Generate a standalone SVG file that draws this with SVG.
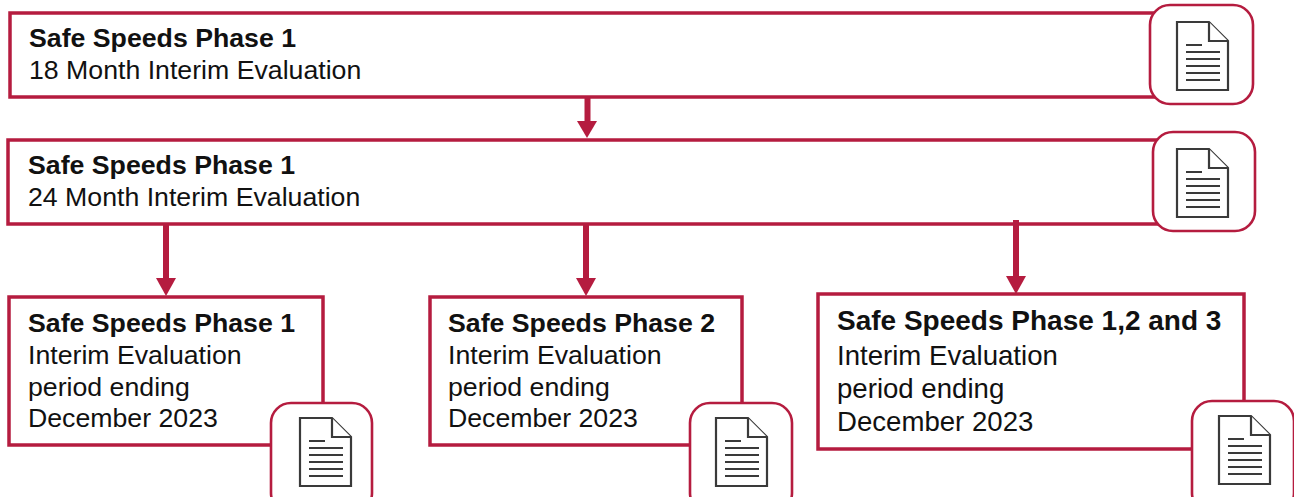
<svg xmlns="http://www.w3.org/2000/svg" width="1294" height="497" viewBox="0 0 1294 497">
<style>
.box{fill:#fff;stroke:#b51c3f;stroke-width:3.5}
.ic{fill:#fff;stroke:#b51c3f;stroke-width:2.6}
.conn{stroke:#b51c3f;stroke-width:6;fill:none}
.ah{fill:#b51c3f}
.doc{fill:#fff;stroke:#3a3a3a;stroke-width:2.2;stroke-linejoin:miter}
.dl{stroke:#3a3a3a;stroke-width:2;fill:none}
text{font-family:"Liberation Sans",Arial,sans-serif;font-size:26.7px;fill:#111}
.b{font-weight:700}
.lg{font-size:27.6px}
.xl{font-size:28px}
</style>
<defs>
<g id="doc">
<path class="doc" d="M0 0H32L51 19V68H0Z"/>
<path class="doc" d="M32 0V19H51"/>
<path class="dl" d="M9 23H25M9 30H43M9 37H43M9 44H43M9 51H43M9 58H43"/>
</g>
</defs>
<g id="node-1">
<rect class="box" x="10" y="13" width="1160" height="84"/>
<text class="b" x="29" y="47">Safe Speeds Phase 1</text>
<text x="29" y="79">18 Month Interim Evaluation</text>
<rect class="ic" x="1150" y="5" width="103" height="99" rx="20"/>
<use href="#doc" x="1177" y="22"/>
</g>
<g id="node-2">
<rect class="box" x="8" y="140" width="1165" height="84"/>
<text class="b" x="28" y="174">Safe Speeds Phase 1</text>
<text x="28" y="206">24 Month Interim Evaluation</text>
<rect class="ic" x="1153" y="132" width="102" height="99" rx="20"/>
<use href="#doc" x="1177" y="149"/>
</g>
<g id="node-3">
<rect class="box" x="9" y="297" width="314" height="148"/>
<text class="b" x="28" y="332">Safe Speeds Phase 1</text>
<text x="28" y="364">Interim Evaluation</text>
<text x="28" y="396">period ending</text>
<text x="28" y="427">December 2023</text>
<rect class="ic" x="271" y="403" width="101" height="110" rx="20"/>
<use href="#doc" x="300" y="418"/>
</g>
<g id="node-4">
<rect class="box" x="430" y="297" width="312" height="148"/>
<text class="b" x="448" y="332">Safe Speeds Phase 2</text>
<text x="448" y="364">Interim Evaluation</text>
<text x="448" y="396">period ending</text>
<text x="448" y="427">December 2023</text>
<rect class="ic" x="690" y="403" width="102" height="110" rx="20"/>
<use href="#doc" x="716" y="418"/>
</g>
<g id="node-5">
<rect class="box" x="818" y="294" width="426" height="155"/>
<text class="b xl" x="837" y="330">Safe Speeds Phase 1,2 and 3</text>
<text class="lg" x="837" y="365">Interim Evaluation</text>
<text class="lg" x="837" y="398">period ending</text>
<text class="lg" x="837" y="431">December 2023</text>
<rect class="ic" x="1192" y="401" width="102" height="112" rx="20"/>
<use href="#doc" x="1219" y="416"/>
</g>
<g id="connectors">
<path class="conn" d="M587.5 97V122"/><path class="ah" d="M577 121H597L587 138Z"/>
<path class="conn" d="M166 224V280"/><path class="ah" d="M156 278H176L166 296Z"/>
<path class="conn" d="M586 224V280"/><path class="ah" d="M576 278H596L586 296Z"/>
<path class="conn" d="M1016 220V278"/><path class="ah" d="M1006 276H1026L1016 294Z"/>
</g>
</svg>
